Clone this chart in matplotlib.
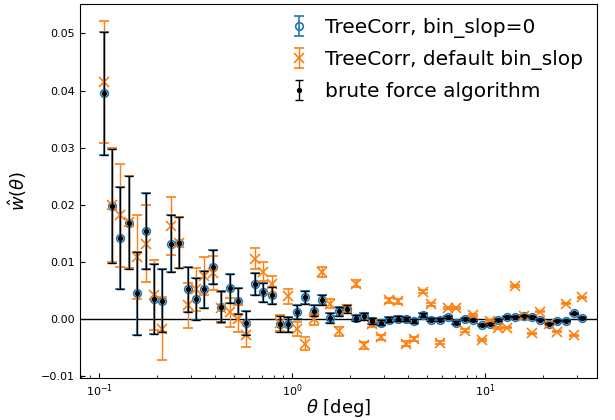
import matplotlib
matplotlib.use("Agg")
import matplotlib.pyplot as plt

theta = [0.1053, 0.1164, 0.1286, 0.1422, 0.1572, 0.1738, 0.1920, 0.2123, 0.2347, 0.2594,
         0.2868, 0.3170, 0.3504, 0.3873, 0.4282, 0.4733, 0.5232, 0.5783, 0.6393, 0.7067,
         0.7810, 0.8634, 0.9545, 1.0551, 1.1663, 1.2893, 1.4252, 1.5754, 1.7415, 1.9251,
         2.1281, 2.3524, 2.6002, 2.8743, 3.1775, 3.5124, 3.8826, 4.2918, 4.7446, 5.2446,
         5.7975, 6.4087, 7.0843, 7.8311, 8.6566, 9.5676, 10.577, 11.692, 12.924, 14.286,
         15.793, 17.458, 19.298, 21.33, 23.58, 26.07, 28.82, 31.85]

w_binslop0 = [0.0395, 0.0198, 0.0142, 0.0169, 0.0045, 0.0154, 0.0035, 0.0032, 0.0132, 0.0134,
              0.0052, 0.0035, 0.0052, 0.0091, 0.0022, 0.0054, 0.0032, -0.0006, 0.0061, 0.0047,
              0.0042, -0.0008, -0.0009, 0.0012, 0.0038, 0.0015, 0.0034, 0.0002, 0.0014, 0.0017,
              0.0002, 0.0005, -0.0003, -0.0006, -0.0001, 0.0001, 0.0000, -0.0003, 0.0007, -0.0001,
              -0.0001, 0.0004, -0.0006, 0.0000, -0.0002, -0.0010, -0.0009, -0.0001, 0.0004, 0.0004,
              0.0006, 0.0004, -0.0001, -0.0008, -0.0003, -0.0003, 0.0010, 0.0002]

w_default = [0.0415, 0.0200, 0.0182, 0.0170, 0.0109, 0.0132, 0.0042, -0.0017, 0.0163, 0.0134,
             0.0024, 0.0052, 0.0075, 0.0081, 0.0020, 0.0012, 0.0001, -0.0028, 0.0106, 0.0083,
             0.0061, -0.0007, 0.0040, -0.0017, -0.0043, 0.0000, 0.0082, 0.0027, -0.0021, 0.0017,
             0.0062, -0.0046, -0.0009, -0.0032, 0.0033, 0.0031, -0.0043, -0.0035, 0.0048, 0.0026,
             -0.0041, 0.0020, 0.0020, -0.0020, 0.0007, -0.0037, -0.0003, -0.0015, -0.0015, 0.0058,
             0.0006, -0.0025, 0.0013, -0.0009, -0.0022, 0.0027, -0.0028, 0.0038]

w_brute = list(w_binslop0)

err = [0.0107, 0.0100, 0.0090, 0.0081, 0.0073, 0.0067, 0.0061, 0.0055, 0.0050, 0.0044,
       0.0040, 0.0037, 0.0033, 0.0030, 0.0027, 0.0025, 0.0023, 0.0021, 0.0019, 0.0017,
       0.0015, 0.0014, 0.0013, 0.0012, 0.0011, 0.0010, 0.0009, 0.0008, 0.0008, 0.0007,
       0.0006, 0.0006, 0.0005, 0.0005, 0.0004, 0.0004, 0.0004, 0.0003, 0.0003, 0.0003,
       0.0003, 0.0002, 0.0002, 0.0002, 0.0002, 0.0002, 0.0002, 0.0002, 0.0001, 0.0001,
       0.0001, 0.0001, 0.0001, 0.0001, 0.0001, 0.0001, 0.0001, 0.0001]

err_default = list(err)

fig = plt.figure(figsize=(6.15, 4.2), dpi=100)
ax = fig.add_axes([0.130, 0.100, 0.841, 0.890])

ax.axhline(0, color="k", lw=1, zorder=1)
ax.errorbar(theta, w_binslop0, yerr=err, fmt="o", mfc="none", color="C0",
            ms=5.5, mew=1.2, capsize=3.5, elinewidth=1.2, label="TreeCorr, bin_slop=0", zorder=2)
ax.errorbar(theta, w_default, yerr=err_default, fmt="x", color="C1",
            ms=6.5, mew=1.2, capsize=3.5, elinewidth=1.0, label="TreeCorr, default bin_slop", zorder=3)
ax.errorbar(theta, w_brute, yerr=err, fmt="o", color="k",
            ms=2.8, capsize=3, elinewidth=1.0, label="brute force algorithm", zorder=4)

ax.set_xscale("log")
ax.set_xlim(0.0794, 38.0)
ax.set_ylim(-0.0103, 0.0551)
ax.set_yticks([-0.01, 0.0, 0.01, 0.02, 0.03, 0.04, 0.05])
ax.tick_params(which="both", direction="in", labelsize=8)
ax.set_xlabel(r"$\theta$ [deg]", fontsize=13, labelpad=-2)
ax.set_ylabel(r"$\hat{w}(\theta)$", fontsize=13, labelpad=9)
ax.legend(loc="upper right", fontsize=14.5, frameon=False, borderaxespad=0.3,
          handlelength=1.0, labelspacing=0.6)

fig.savefig("out.png", dpi=100)
